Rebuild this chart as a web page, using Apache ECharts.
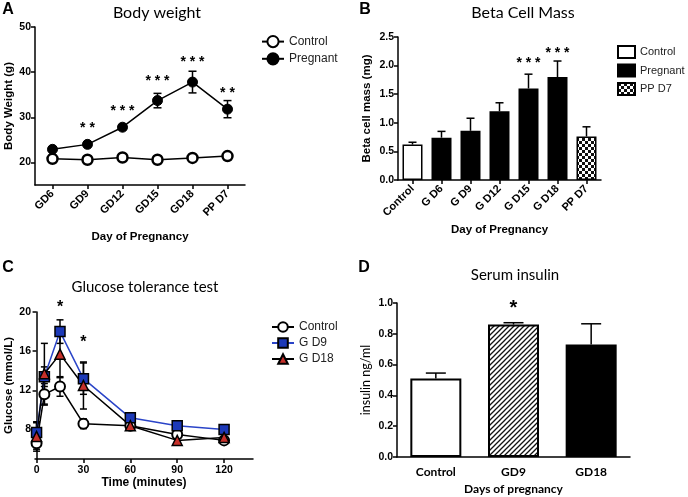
<!DOCTYPE html>
<html><head><meta charset="utf-8">
<script src="https://cdn.jsdelivr.net/npm/echarts@6/dist/echarts.min.js"></script>
<style>html,body{margin:0;padding:0;background:#fff}#c{width:688px;height:497px}</style>
</head><body><div id="c"></div>
<script>
// ---------- Panel A: Body weight ----------
const bwCategories = ['GD6', 'GD9', 'GD12', 'GD15', 'GD18', 'PP D7'];
const bwControl = [20.8, 20.6, 21.1, 20.6, 21.0, 21.4];
const bwPregnant = [22.9, 24.0, 27.8, 33.7, 37.8, 31.8];
const bwPregnantErr = [0.4, 0.4, 0.6, 1.6, 2.4, 1.9];
const bwStars = ['', '* *', '* * *', '* * *', '* * *', '* *'];
const bwStarY = [24, 27.6, 31.4, 38.0, 42.2, 35.4];
const bwTicks = [20, 30, 40, 50];

// ---------- Panel B: Beta cell mass ----------
const bcmCategories = ['Control', 'G D6', 'G D9', 'G D12', 'G D15', 'G D18', 'PP D7'];
const bcmGroup = ['Control', 'Pregnant', 'Pregnant', 'Pregnant', 'Pregnant', 'Pregnant', 'PP D7'];
const bcmValues = [0.62, 0.74, 0.86, 1.20, 1.60, 1.80, 0.76];
const bcmErr = [0.04, 0.11, 0.22, 0.15, 0.25, 0.28, 0.17];
const bcmStars = ['', '', '', '', '* * *', '* * *', ''];
const bcmStarY = [0, 0, 0, 0, 2.04, 2.21, 0];

// ---------- Panel C: Glucose tolerance test ----------
const gttTime = [0, 5, 15, 30, 60, 90, 120];
const gttControl = [6.6, 11.6, 12.4, 8.6, 8.4, 7.5, 6.9];
const gttControlErr = [0.6, 1.1, 1.0, 0.5, 0.2, 0.3, 0.3];
const gttGD9 = [7.7, 13.4, 18.0, 13.2, 9.2, 8.4, 8.0];
const gttGD9Err = [1.0, 1.0, 1.2, 1.6, 0.3, 0.3, 0.2];
const gttGD18 = [7.3, 13.7, 15.7, 12.5, 8.4, 6.9, 7.2];
const gttGD18Err = [1.5, 3.1, 2.4, 2.4, 0.3, 0.3, 0.3];
const gttStarTime = [15, 30];
const gttStarY = [20.4, 16.9];
const gttYTicks = [8, 12, 16, 20];
const gttXTicks = [0, 30, 60, 90, 120];

// ---------- Panel D: Serum insulin ----------
const insCategories = ['Control', 'GD9', 'GD18'];
const insValues = [0.51, 0.86, 0.73];
const insErr = [0.035, 0.012, 0.135];
const insStars = ['', '*', ''];
const insStarY = [0, 0.965, 0];

// ---------- styling helpers ----------
function checker() {
  const c = document.createElement('canvas'); c.width = 6; c.height = 6;
  const g = c.getContext('2d');
  g.fillStyle = '#fff'; g.fillRect(0, 0, 6, 6);
  g.fillStyle = '#111'; g.fillRect(0, 0, 3, 3); g.fillRect(3, 3, 3, 3);
  return c;
}
function stripes() {
  const s = 5, c = document.createElement('canvas'); c.width = s; c.height = s;
  const g = c.getContext('2d');
  g.fillStyle = '#fff'; g.fillRect(0, 0, s, s);
  g.strokeStyle = '#111'; g.lineWidth = 1.3;
  g.beginPath();
  g.moveTo(0, s); g.lineTo(s, 0);
  g.moveTo(-1, 1); g.lineTo(1, -1);
  g.moveTo(s - 1, s + 1); g.lineTo(s + 1, s - 1);
  g.stroke();
  return c;
}
const checkerFill = { image: checker(), repeat: 'repeat' };
const stripeFill = { image: stripes(), repeat: 'repeat' };

const FONT = 'Liberation Sans, Arial, sans-serif';
const TFONT = 'Lato, Open Sans, sans-serif';

function errRender(capW, color) {
  return function (params, api) {
    const x = api.value(0), y = api.value(1), up = api.value(2), dn = api.value(3);
    const top = api.coord([x, y + up]), bot = api.coord([x, y - dn]);
    const st = { stroke: color || '#000', lineWidth: 1.5 };
    const ch = [
      { type: 'line', shape: { x1: top[0], y1: top[1], x2: bot[0], y2: bot[1] }, style: st },
      { type: 'line', shape: { x1: top[0] - capW / 2, y1: top[1], x2: top[0] + capW / 2, y2: top[1] }, style: st }
    ];
    if (dn > 0) ch.push({ type: 'line', shape: { x1: bot[0] - capW / 2, y1: bot[1], x2: bot[0] + capW / 2, y2: bot[1] }, style: st });
    return { type: 'group', children: ch };
  };
}
function starRender(labels, size) {
  return function (params, api) {
    const p = api.coord([api.value(0), api.value(1)]);
    return { type: 'text', x: p[0], y: p[1],
      style: { text: labels[params.dataIndex], fill: '#000', fontSize: size, fontWeight: 'bold', fontFamily: FONT, align: 'center', verticalAlign: 'middle' } };
  };
}

const axLine = { show: true, lineStyle: { color: '#000', width: 1.5 } };
const axTick = { show: true, inside: false, length: 4, lineStyle: { color: '#000', width: 1.5 } };
const labStyle = { color: '#000', fontWeight: 'bold', fontFamily: FONT, fontSize: 10.5 };
const rotStyle = { color: '#000', fontWeight: 'bold', fontFamily: FONT, fontSize: 11 };
const nameStyle = { color: '#000', fontWeight: 'bold', fontFamily: FONT, fontSize: 11.5 };

const grids = [
  { left: 35, top: 27, width: 210, height: 158 },
  { left: 398, top: 37, width: 203, height: 143 },
  { left: 35, top: 312, width: 218, height: 147 },
  { left: 397, top: 303, width: 233, height: 154 }
];

const xAxes = [
  { gridIndex: 0, type: 'category', data: bwCategories, axisLine: axLine,
    axisTick: Object.assign({ alignWithLabel: true }, axTick),
    axisLabel: Object.assign({ rotate: 45, margin: 7 }, rotStyle),
    name: 'Day of Pregnancy', nameLocation: 'middle', nameGap: 46, nameTextStyle: nameStyle },
  { gridIndex: 1, type: 'category', data: bcmCategories, axisLine: axLine,
    axisTick: Object.assign({ alignWithLabel: true }, axTick),
    axisLabel: Object.assign({ rotate: 45, margin: 7 }, rotStyle),
    name: 'Day of Pregnancy', nameLocation: 'middle', nameGap: 44, nameTextStyle: nameStyle },
  { gridIndex: 2, type: 'value', min: -1, max: 138.5, axisLine: axLine,
    axisTick: Object.assign({ customValues: gttXTicks }, axTick),
    axisLabel: Object.assign({ customValues: gttXTicks, margin: 6 }, labStyle),
    splitLine: { show: false },
    name: 'Time (minutes)', nameLocation: 'middle', nameGap: 13, nameTextStyle: Object.assign({}, nameStyle, { fontSize: 12 }) },
  { gridIndex: 3, type: 'category', data: insCategories, axisLine: axLine,
    axisTick: { show: false },
    axisLabel: Object.assign({}, labStyle, { fontFamily: TFONT, fontSize: 12, margin: 9 }),
    name: 'Days of pregnancy', nameLocation: 'middle', nameGap: 26, nameTextStyle: Object.assign({}, nameStyle, { fontFamily: TFONT, fontSize: 12 }) }
];

const yAxes = [
  { gridIndex: 0, type: 'value', min: 15, max: 50, axisLine: axLine,
    axisTick: Object.assign({ customValues: bwTicks }, axTick),
    axisLabel: Object.assign({ customValues: bwTicks, margin: 4 }, labStyle), splitLine: { show: false },
    name: 'Body Weight (g)', nameLocation: 'middle', nameGap: 20, nameTextStyle: nameStyle },
  { gridIndex: 1, type: 'value', min: 0, max: 2.5, interval: 0.5, axisLine: axLine, axisTick: axTick,
    axisLabel: Object.assign({ margin: 4, formatter: v => v.toFixed(1) }, labStyle), splitLine: { show: false },
    name: 'Beta cell mass (mg)', nameLocation: 'middle', nameGap: 25, nameTextStyle: nameStyle },
  { gridIndex: 2, type: 'value', min: 5, max: 20, axisLine: axLine,
    axisTick: Object.assign({ customValues: gttYTicks }, axTick),
    axisLabel: Object.assign({ customValues: gttYTicks, margin: 4 }, labStyle), splitLine: { show: false },
    name: 'Glucose (mmol/L)', nameLocation: 'middle', nameGap: 20, nameTextStyle: nameStyle },
  { gridIndex: 3, type: 'value', min: 0, max: 1.0, interval: 0.2, axisLine: axLine, axisTick: axTick,
    axisLabel: Object.assign({ margin: 4, formatter: v => v.toFixed(1) }, labStyle), splitLine: { show: false },
    name: 'insulin ng/ml', nameLocation: 'middle', nameGap: 25, nameTextStyle: Object.assign({}, nameStyle, { fontWeight: 'normal', fontFamily: TFONT, fontSize: 12.5 }) }
];

const groupStyle = {
  'Control': { color: '#fff', borderColor: '#000', borderWidth: 1.5 },
  'Pregnant': { color: '#000', borderColor: '#000', borderWidth: 1.5 },
  'PP D7': { color: checkerFill, borderColor: '#000', borderWidth: 1.5 }
};
const insStyles = [
  { color: '#fff', borderColor: '#000', borderWidth: 2 },
  { color: stripeFill, borderColor: '#000', borderWidth: 2 },
  { color: '#000', borderColor: '#000', borderWidth: 2 }
];

const series = [];
// Panel A
series.push({ type: 'custom', xAxisIndex: 0, yAxisIndex: 0, renderItem: errRender(8), z: 1,
  data: bwPregnant.map((v, i) => [i, v, bwPregnantErr[i], bwPregnantErr[i]]) });
series.push({ name: 'A:Control', type: 'line', xAxisIndex: 0, yAxisIndex: 0, data: bwControl, z: 3,
  symbol: 'circle', symbolSize: 10, itemStyle: { color: '#fff', borderColor: '#000', borderWidth: 2.5 },
  lineStyle: { color: '#000', width: 1.5 } });
series.push({ name: 'A:Pregnant', type: 'line', xAxisIndex: 0, yAxisIndex: 0, data: bwPregnant, z: 3,
  symbol: 'circle', symbolSize: 10, itemStyle: { color: '#000', borderColor: '#000', borderWidth: 1 },
  lineStyle: { color: '#000', width: 1.5 } });
series.push({ type: 'custom', xAxisIndex: 0, yAxisIndex: 0, renderItem: starRender(bwStars, 14), z: 4,
  data: bwStarY.map((v, i) => [i, v]) });

// Panel B
['Control', 'Pregnant', 'PP D7'].forEach(g => {
  series.push({ name: 'B:' + g, type: 'bar', xAxisIndex: 1, yAxisIndex: 1, barWidth: 20, barGap: '-100%', z: 2,
    itemStyle: groupStyle[g],
    data: bcmValues.map((v, i) => bcmGroup[i] === g ? v : '-') });
});
series.push({ type: 'custom', xAxisIndex: 1, yAxisIndex: 1, renderItem: errRender(8), z: 1,
  data: bcmValues.map((v, i) => [i, v, bcmErr[i], 0]) });
series.push({ type: 'custom', xAxisIndex: 1, yAxisIndex: 1, renderItem: starRender(bcmStars, 14), z: 4,
  data: bcmStarY.map((v, i) => [i, v]) });

// Panel C
const gttSets = [
  { name: 'C:Control', vals: gttControl, err: gttControlErr, symbol: 'circle', fill: '#fff', line: '#000', bw: 2 },
  { name: 'C:G D9', vals: gttGD9, err: gttGD9Err, symbol: 'rect', fill: '#1c39b8', line: '#2a44c8', bw: 1.5 },
  { name: 'C:G D18', vals: gttGD18, err: gttGD18Err, symbol: 'triangle', fill: '#c6302a', line: '#000', bw: 1.5 }
];
gttSets.forEach(s => {
  series.push({ type: 'custom', xAxisIndex: 2, yAxisIndex: 2, renderItem: errRender(7), z: 1,
    data: s.vals.map((v, i) => [gttTime[i], v, s.err[i], s.err[i]]) });
});
gttSets.forEach(s => {
  series.push({ name: s.name, type: 'line', xAxisIndex: 2, yAxisIndex: 2, z: 3,
    data: s.vals.map((v, i) => [gttTime[i], v]),
    symbol: s.symbol, symbolSize: 10,
    itemStyle: { color: s.fill, borderColor: '#000', borderWidth: s.bw },
    lineStyle: { color: s.line, width: 1.5 } });
});
series.push({ type: 'custom', xAxisIndex: 2, yAxisIndex: 2, renderItem: starRender(['*', '*'], 16), z: 4,
  data: gttStarTime.map((t, i) => [t, gttStarY[i]]) });

// Panel D
series.push({ type: 'bar', xAxisIndex: 3, yAxisIndex: 3, barWidth: 51, z: 2,
  data: insValues.map((v, i) => ({ value: v, itemStyle: insStyles[i] })) });
series.push({ type: 'custom', xAxisIndex: 3, yAxisIndex: 3, renderItem: errRender(20), z: 1,
  data: insValues.map((v, i) => [i, v, insErr[i], 0]) });
series.push({ type: 'custom', xAxisIndex: 3, yAxisIndex: 3, renderItem: starRender(insStars, 20), z: 4,
  data: insStarY.map((v, i) => [i, v]) });

const legTxt = { color: '#222', fontSize: 12, fontFamily: FONT };
const fmt = n => n.split(':')[1];
const legends = [
  { data: ['A:Control', 'A:Pregnant'], orient: 'vertical', left: 256, top: 30, itemWidth: 22, itemHeight: 14, itemGap: 4,
    formatter: fmt, textStyle: legTxt, selectedMode: false },
  { data: ['B:Control', 'B:Pregnant', 'B:PP D7'], orient: 'vertical', left: 612, top: 40, icon: 'rect', itemWidth: 17, itemHeight: 12, itemGap: 4.5,
    formatter: fmt, textStyle: Object.assign({}, legTxt, { fontSize: 11 }), selectedMode: false },
  { data: ['C:Control', 'C:G D9', 'C:G D18'], orient: 'vertical', left: 266, top: 316, itemWidth: 22, itemHeight: 12, itemGap: 4,
    formatter: fmt, textStyle: legTxt, selectedMode: false }
];

function txt(t, x, y, size, weight, family) {
  return { type: 'text', x: x, y: y, style: { text: t, fontSize: size, fontWeight: weight, fontFamily: family, fill: '#000', align: 'center', verticalAlign: 'middle' } };
}
const graphics = [
  txt('Body weight', 157, 13, 16, 'normal', TFONT),
  txt('Beta Cell Mass', 523, 13, 16, 'normal', TFONT),
  txt('Glucose tolerance test', 145, 287, 15, 'normal', TFONT),
  txt('Serum insulin', 515, 275, 15, 'normal', TFONT),
  txt('A', 8, 10, 16, 'bold', FONT),
  txt('B', 365, 10, 16, 'bold', FONT),
  txt('C', 8, 268, 16, 'bold', FONT),
  txt('D', 364, 268, 16, 'bold', FONT)
];

const chart = echarts.init(document.getElementById('c'), null, { renderer: 'canvas' });
chart.setOption({
  animation: false,
  backgroundColor: '#fff',
  grid: grids,
  xAxis: xAxes,
  yAxis: yAxes,
  legend: legends,
  graphic: graphics,
  series: series
});
</script></body></html>
